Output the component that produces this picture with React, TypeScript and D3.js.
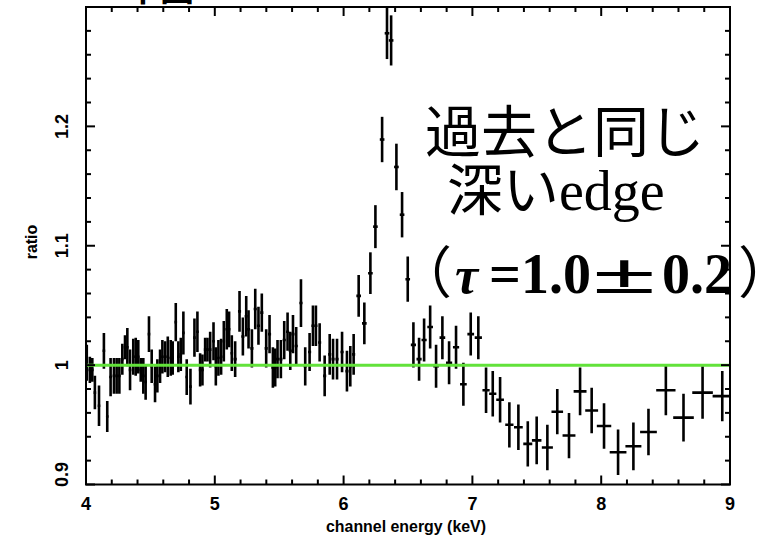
import React, { useEffect, useRef } from 'react';
import * as d3 from 'd3';

// each bin: [energy (keV), half bin width, ratio, ratio error]
type Bin = [number, number, number, number];

const lowBand: Bin[] = [
  [4.006, 0.008, 1.002, 0.015], [4.030, 0.01, 0.996, 0.011], [4.049, 0.01, 0.996, 0.010],
  [4.069, 0.01, 0.977, 0.014], [4.101, 0.01, 0.966, 0.017], [4.139, 0.01, 1.012, 0.015],
  [4.165, 0.01, 0.957, 0.013], [4.191, 0.01, 0.990, 0.016], [4.217, 0.01, 0.991, 0.015],
  [4.238, 0.01, 0.991, 0.015], [4.259, 0.01, 0.991, 0.015], [4.282, 0.01, 1.005, 0.013],
  [4.303, 0.01, 1.015, 0.010], [4.321, 0.01, 1.015, 0.016], [4.342, 0.01, 0.996, 0.017],
  [4.367, 0.01, 1.007, 0.015], [4.386, 0.01, 1.007, 0.016], [4.406, 0.01, 1.007, 0.014],
  [4.425, 0.01, 0.996, 0.010], [4.445, 0.01, 0.991, 0.015], [4.463, 0.01, 0.986, 0.015],
  [4.489, 0.01, 1.026, 0.015], [4.510, 0.01, 0.999, 0.014], [4.536, 0.01, 0.984, 0.015],
  [4.554, 0.01, 0.991, 0.014], [4.575, 0.01, 0.999, 0.014], [4.593, 0.01, 1.007, 0.014],
  [4.614, 0.01, 1.007, 0.013], [4.635, 0.01, 1.007, 0.017], [4.658, 0.01, 1.006, 0.015],
  [4.673, 0.01, 1.006, 0.014], [4.697, 0.01, 1.036, 0.016], [4.717, 0.01, 1.007, 0.013],
  [4.736, 0.01, 1.009, 0.014], [4.756, 0.01, 1.027, 0.018], [4.782, 0.01, 0.990, 0.015],
  [4.811, 0.01, 0.982, 0.015], [4.842, 0.01, 1.023, 0.016], [4.865, 0.01, 1.028, 0.017],
  [4.886, 0.01, 0.996, 0.014], [4.904, 0.01, 0.996, 0.013], [4.925, 0.01, 1.013, 0.010],
  [4.943, 0.01, 1.013, 0.010], [4.964, 0.01, 1.013, 0.015], [4.990, 0.01, 1.020, 0.016],
  [5.008, 0.01, 0.999, 0.016], [5.028, 0.01, 1.006, 0.015], [5.049, 0.01, 1.007, 0.015],
  [5.070, 0.01, 1.020, 0.017], [5.093, 0.01, 1.030, 0.017], [5.111, 0.01, 1.030, 0.015],
  [5.132, 0.01, 1.010, 0.015],
];

const midBand: Bin[] = [
  [5.158, 0.012, 1.005, 0.015], [5.192, 0.012, 1.045, 0.017], [5.218, 0.012, 1.024, 0.016],
  [5.244, 0.012, 1.041, 0.017], [5.262, 0.012, 1.030, 0.016], [5.288, 0.012, 1.014, 0.016],
  [5.314, 0.012, 1.047, 0.017], [5.339, 0.012, 1.033, 0.016], [5.365, 0.012, 1.044, 0.016],
  [5.399, 0.012, 1.014, 0.016], [5.425, 0.012, 1.026, 0.016], [5.451, 0.012, 0.998, 0.017],
  [5.469, 0.012, 0.998, 0.016], [5.487, 0.012, 1.005, 0.016], [5.513, 0.012, 1.005, 0.016],
  [5.539, 0.012, 1.021, 0.016], [5.565, 0.012, 1.028, 0.016], [5.586, 0.012, 1.012, 0.016],
  [5.607, 0.012, 1.026, 0.016], [5.632, 0.012, 1.016, 0.016], [5.669, 0.012, 1.052, 0.020],
  [5.702, 0.012, 0.999, 0.016], [5.736, 0.012, 1.011, 0.016], [5.762, 0.012, 1.033, 0.017],
  [5.785, 0.012, 1.033, 0.017], [5.814, 0.012, 1.019, 0.016], [5.853, 0.012, 0.991, 0.017],
  [5.892, 0.012, 1.009, 0.017], [5.918, 0.012, 1.005, 0.017], [5.949, 0.012, 1.005, 0.017],
  [5.988, 0.012, 1.011, 0.017], [6.026, 0.012, 0.995, 0.017], [6.052, 0.012, 0.999, 0.017],
  [6.078, 0.012, 1.009, 0.017],
];

// iron line
const lineBand: Bin[] = [
  [6.117, 0.018, 1.058, 0.0175], [6.161, 0.018, 1.035, 0.0175], [6.208, 0.018, 1.077, 0.0175],
  [6.247, 0.018, 1.116, 0.018], [6.299, 0.018, 1.189, 0.019], [6.337, 0.018, 1.278, 0.0216],
  [6.369, 0.018, 1.272, 0.021], [6.410, 0.018, 1.166, 0.0195], [6.454, 0.018, 1.126, 0.019],
  [6.498, 0.018, 1.072, 0.019],
];

// edge region
const edgeBand: Bin[] = [
  [6.542, 0.02, 1.017, 0.019], [6.586, 0.02, 1.005, 0.018], [6.625, 0.02, 1.021, 0.018],
  [6.672, 0.022, 1.032, 0.018], [6.718, 0.022, 0.999, 0.018], [6.767, 0.022, 1.023, 0.018],
  [6.819, 0.024, 1.002, 0.018], [6.873, 0.024, 1.015, 0.018], [6.930, 0.026, 0.984, 0.018],
  [6.987, 0.026, 1.026, 0.018], [7.046, 0.028, 1.023, 0.018], [7.106, 0.028, 0.979, 0.019],
  [7.158, 0.028, 0.976, 0.019], [7.215, 0.03, 0.971, 0.019], [7.287, 0.032, 0.950, 0.019],
  [7.357, 0.034, 0.948, 0.019], [7.430, 0.035, 0.934, 0.019], [7.499, 0.037, 0.937, 0.020],
  [7.582, 0.043, 0.931, 0.019], [7.659, 0.045, 0.961, 0.019], [7.750, 0.05, 0.941, 0.019],
  [7.836, 0.05, 0.978, 0.020], [7.926, 0.05, 0.962, 0.019], [8.022, 0.056, 0.949, 0.019],
  [8.131, 0.065, 0.927, 0.019], [8.250, 0.062, 0.932, 0.020], [8.367, 0.065, 0.944, 0.0195],
  [8.502, 0.075, 0.979, 0.021], [8.639, 0.08, 0.956, 0.020], [8.787, 0.08, 0.977, 0.022],
  [8.940, 0.075, 0.974, 0.021],
];

const xTicks = [4, 5, 6, 7, 8, 9];
const yTicks = [0.9, 1, 1.1, 1.2];

const labelFont = '"Liberation Sans Narrow", "Liberation Sans", Arial, sans-serif';
const cjkFont = '"Noto Sans CJK JP", sans-serif';
const serifFont = '"Liberation Serif", "Times New Roman", serif';

const App = () => {
  const ref = useRef<SVGSVGElement>(null);

  useEffect(() => {
    if (!ref.current) return;
    const svg = d3.select(ref.current);
    svg.selectAll('*').remove();

    const left = 86, right = 730, top = 7, bottom = 484.5;
    const x = d3.scaleLinear().domain([4, 9]).range([left, right]);
    const y = d3.scaleLinear().domain([0.9, 1.3]).range([bottom, top]);
    const bins = [...lowBand, ...midBand, ...lineBand, ...edgeBand];

    svg.append('rect').attr('width', 776).attr('height', 540).attr('fill', '#fff');

    // cut-off title fragment at the very top
    svg.append('text')
      .attr('x', 126).attr('y', 1)
      .attr('font-family', cjkFont).attr('font-weight', 'bold').attr('font-size', 34)
      .text('中図');

    svg.append('clipPath').attr('id', 'plotArea')
      .append('rect')
      .attr('x', left).attr('y', 0)
      .attr('width', right - left).attr('height', bottom);

    const data = svg.append('g').attr('clip-path', 'url(#plotArea)').attr('stroke', '#000');

    data.selectAll('line.yerr').data(bins).join('line')
      .attr('class', 'yerr')
      .attr('x1', d => x(d[0])).attr('x2', d => x(d[0]))
      .attr('y1', d => y(d[2] - d[3])).attr('y2', d => y(d[2] + d[3]))
      .attr('stroke-width', 2.6);

    data.selectAll('line.xerr').data(bins).join('line')
      .attr('class', 'xerr')
      .attr('x1', d => x(d[0] - d[1])).attr('x2', d => x(d[0] + d[1]))
      .attr('y1', d => y(d[2])).attr('y2', d => y(d[2]))
      .attr('stroke-width', 2.6);

    // model = 1
    svg.append('line')
      .attr('x1', left).attr('x2', right)
      .attr('y1', y(1)).attr('y2', y(1))
      .attr('stroke', '#62e23a').attr('stroke-width', 3);

    // frame and ticks
    const frame = svg.append('g').attr('stroke', '#000').attr('stroke-width', 2);
    frame.append('rect')
      .attr('x', left).attr('y', top)
      .attr('width', right - left).attr('height', bottom - top)
      .attr('fill', 'none');

    const xMinor = x.ticks(25);
    const yMinor = y.ticks(20);
    const isMajorX = (v: number) => Math.abs(v - Math.round(v)) < 1e-6;
    const isMajorY = (v: number) => Math.abs(v * 10 - Math.round(v * 10)) < 1e-6;

    xMinor.forEach(v => {
      const len = isMajorX(v) ? 9 : 5;
      frame.append('line').attr('x1', x(v)).attr('x2', x(v)).attr('y1', bottom).attr('y2', bottom - len);
      frame.append('line').attr('x1', x(v)).attr('x2', x(v)).attr('y1', top).attr('y2', top + len);
    });
    yMinor.forEach(v => {
      const len = isMajorY(v) ? 9 : 5;
      frame.append('line').attr('y1', y(v)).attr('y2', y(v)).attr('x1', left).attr('x2', left + len);
      frame.append('line').attr('y1', y(v)).attr('y2', y(v)).attr('x1', right).attr('x2', right - len);
    });

    // tick labels
    svg.append('g').selectAll('text').data(xTicks).join('text')
      .attr('x', d => x(d)).attr('y', 510)
      .attr('text-anchor', 'middle')
      .attr('font-family', labelFont).attr('font-weight', 'bold').attr('font-size', 18)
      .text(d => d);

    svg.append('g').selectAll('text').data(yTicks).join('text')
      .attr('transform', d => `translate(68,${d === 0.9 ? y(d) - 10 : y(d)}) rotate(-90)`)
      .attr('text-anchor', 'middle')
      .attr('font-family', labelFont).attr('font-weight', 'bold').attr('font-size', 18)
      .text(d => d);

    svg.append('text')
      .attr('x', 406).attr('y', 532)
      .attr('text-anchor', 'middle')
      .attr('font-family', labelFont).attr('font-weight', 'bold').attr('font-size', 16)
      .attr('textLength', 160).attr('lengthAdjust', 'spacingAndGlyphs')
      .text('channel energy (keV)');

    svg.append('text')
      .attr('transform', 'translate(37,242) rotate(-90)')
      .attr('text-anchor', 'middle')
      .attr('font-family', labelFont).attr('font-weight', 'bold').attr('font-size', 16)
      .text('ratio');

    // annotation
    const note = svg.append('g').attr('fill', '#000');
    note.append('text')
      .attr('x', 425).attr('y', 152)
      .attr('font-family', cjkFont).attr('font-size', 56)
      .text('過去と同じ');

    const l2 = note.append('text').attr('x', 447).attr('y', 210).attr('font-size', 56);
    l2.append('tspan').attr('font-family', cjkFont).text('深い');
    l2.append('tspan').attr('font-family', serifFont).text('edge');

    note.append('text')
      .attr('x', 396).attr('y', 293)
      .attr('font-family', cjkFont).attr('font-size', 56)
      .text('（');
    note.append('text')
      .attr('x', 455).attr('y', 293)
      .attr('font-family', serifFont).attr('font-style', 'italic').attr('font-weight', 'bold')
      .attr('font-size', 52)
      .text('τ');
    note.append('text')
      .attr('x', 489).attr('y', 293)
      .attr('font-family', serifFont).attr('font-weight', 'bold').attr('font-size', 56)
      .text('=1.0');
    note.append('text')
      .attr('transform', 'translate(592,293) scale(2.1,1)')
      .attr('font-family', serifFont).attr('font-weight', 'bold').attr('font-size', 56)
      .text('±');
    note.append('text')
      .attr('x', 662).attr('y', 293)
      .attr('font-family', serifFont).attr('font-weight', 'bold').attr('font-size', 56)
      .text('0.2');
    note.append('text')
      .attr('x', 738).attr('y', 293)
      .attr('font-family', cjkFont).attr('font-size', 56)
      .text('）');
  }, []);

  return (
    <svg
      ref={ref}
      width={776}
      height={540}
      style={{ position: 'absolute', left: 0, top: 0 }}
    />
  );
};

export default App;
